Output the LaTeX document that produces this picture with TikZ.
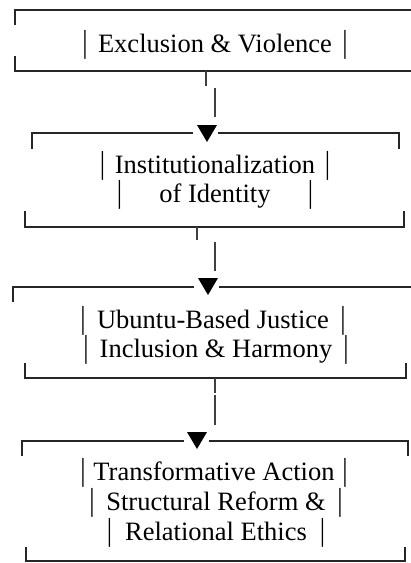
\documentclass[tikz,border=0pt]{standalone}
\usepackage{fontspec}
\setmainfont{Liberation Serif}
\tikzstyle{frame} = [line width=1pt, black!85, line cap=rect]
\tikzstyle{shaft} = [line width=1.1pt, black!75]
\tikzstyle{stage} = [inner sep=0pt, anchor=base, font=\fontsize{13.25}{14}\selectfont]
\tikzstyle{tip} = [fill=black]
\newcommand{\tallbar}{\scalebox{1}[1.2]{|}}
\newcommand{\barred}[2]{\hbox to #1{\tallbar\hfil#2\hfil\tallbar}}

\begin{document}
\begin{tikzpicture}[x=0.5pt,y=-0.5pt]
    \useasboundingbox (0,0) rectangle (411,563);

    % stage texts
    \node (excl) [stage] at (215,52) {\barred{132.65pt}{Exclusion \& Violence}};
    \node (inst1) [stage] at (215,173) {\barred{115.15pt}{Institutionalization}};
    \node (inst2) [stage] at (215,202) {\barred{98.15pt}{of Identity}};
    \node (ubu1) [stage] at (213,328) {\barred{132.65pt}{Ubuntu-Based Justice}};
    \node (ubu2) [stage] at (216,357) {\barred{132.65pt}{Inclusion \& Harmony}};
    \node (trans1) [stage] at (214,480) {\barred{133.65pt}{Transformative Action}};
    \node (trans2) [stage] at (216,510) {\barred{126.65pt}{Structural Reform \&}};
    \node (trans3) [stage] at (216,540) {\barred{109.15pt}{Relational Ethics}};

    % brackets
    \draw [frame] (15,24) -- (15,10) -- (412,10);
    \draw [frame] (15,57) -- (15,71) -- (412,71);
    \draw [frame] (32,148) -- (32,133) -- (192,133);
    \draw [frame] (219,133) -- (399,133) -- (399,148);
    \draw [frame] (25,212) -- (25,227) -- (404,227) -- (404,212);
    \draw [frame] (13,301) -- (13,287) -- (193,287);
    \draw [frame] (220,287) -- (412,287);
    \draw [frame] (25,364) -- (25,378) -- (406,378) -- (406,364);
    \draw [frame] (22,455) -- (22,441) -- (183,441);
    \draw [frame] (210,441) -- (408,441) -- (408,455);
    \draw [frame] (26,548) -- (26,561) -- (405,561) -- (405,548);

    % connectors
    \draw [shaft] (206,71) -- (206,86);
    \draw [shaft] (215,88) -- (215,117);
    \fill [tip] (197,125) -- (217,125) -- (207,142) -- cycle;
    \draw [shaft] (197,227) -- (197,240);
    \draw [shaft] (215,242) -- (215,271);
    \fill [tip] (198,278) -- (218,278) -- (208,295) -- cycle;
    \draw [shaft] (215,378) -- (215,393);
    \draw [shaft] (215,395) -- (215,425);
    \fill [tip] (187,432) -- (207,432) -- (197,449) -- cycle;
\end{tikzpicture}
\end{document}
